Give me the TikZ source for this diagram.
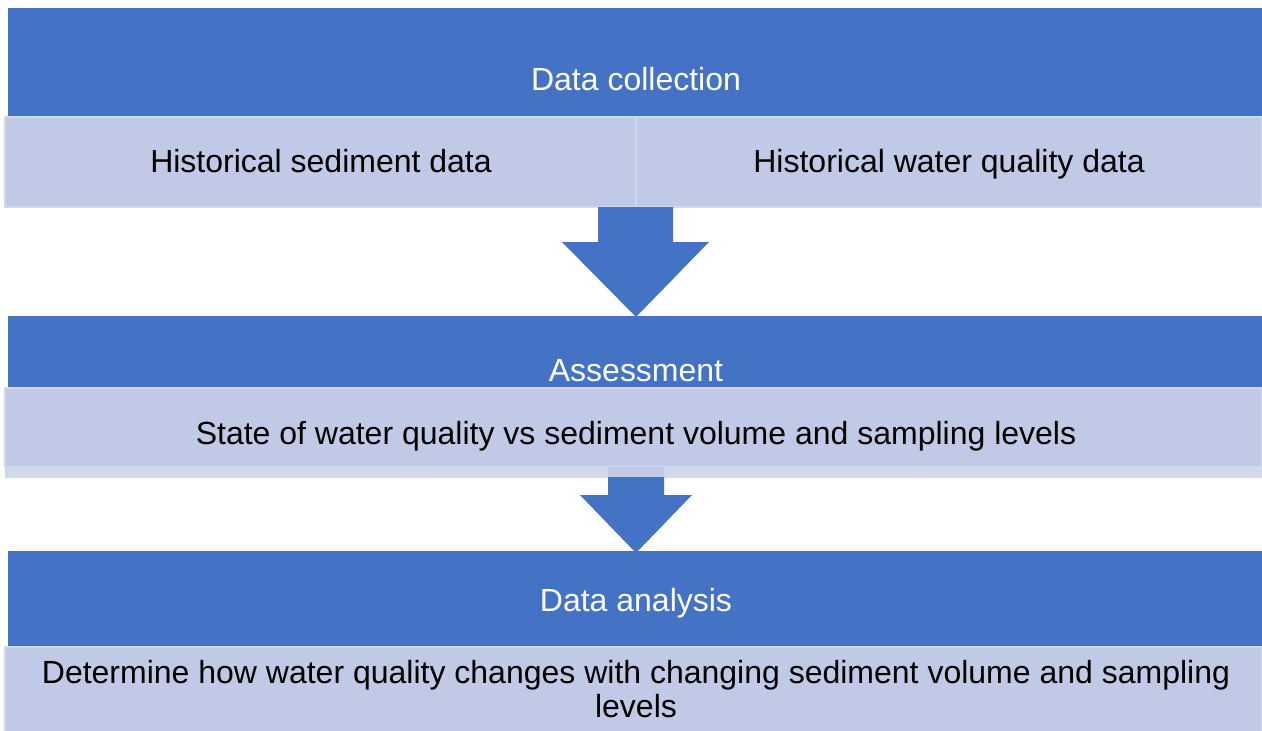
\documentclass[tikz,border=0pt]{standalone}
\usepackage{fontspec}
\setmainfont{Liberation Sans}
\usetikzlibrary{calc}
\definecolor{bandblue}{RGB}{68,114,196}
\definecolor{celllight}{RGB}{192,201,230}
\definecolor{celledge}{RGB}{210,216,236}
\begin{document}
\begin{tikzpicture}[x=1pt,y=-1pt,
  band/.style={fill=bandblue, draw=none, inner sep=0pt, outer sep=0pt},
  cell/.style={fill=celllight, draw=celledge, line width=1.2pt, inner sep=0pt, outer sep=0pt},
  strip/.style={fill=celledge, draw=none, inner sep=0pt, outer sep=0pt},
  head/.style={text=white, font=\fontsize{32}{34}\selectfont, anchor=base, inner sep=0pt},
  body/.style={text=black, font=\fontsize{32}{34}\selectfont, anchor=base, inner sep=0pt, align=center},
  blockarrow/.style={fill=bandblue, draw=none}]
\useasboundingbox (0,0) rectangle (1262,731);
\fill[white] (0,0) rectangle (1262,731);

% stage 1
\node[band, minimum width=1254pt, minimum height=109pt] (b1) at (635,62.5) {};
\node[cell, minimum width=631pt, minimum height=90pt] (c1l) at (320.5,162) {};
\node[cell, minimum width=626pt, minimum height=90pt] (c1r) at (949,162) {};

% arrow 1
\coordinate (a1) at (c1l.south east);
\fill[blockarrow] ($(a1)+(-38,0)$) -- ($(a1)+(37,0)$) -- ($(a1)+(37,35)$) -- ($(a1)+(73,35)$)
  -- ($(a1)+(0,110)$) -- ($(a1)+(-74,35)$) -- ($(a1)+(-38,35)$) -- cycle;

% stage 2
\node[band, minimum width=1254pt, minimum height=72pt] (b2) at (635,352) {};
\node[cell, minimum width=1257pt, minimum height=79pt] (c2) at (633.5,427.5) {};
\node[strip, minimum width=1257pt, minimum height=11pt] (s2) at (633.5,472.5) {};
\fill[celllight] ($(c2.south)+(-25.5,0)$) rectangle ($(c2.south)+(30.5,10)$);

% arrow 2
\coordinate (a2) at ($(c2.south)+(2.5,10)$);
\fill[blockarrow] ($(a2)+(-28,0)$) -- ($(a2)+(28,0)$) -- ($(a2)+(28,18)$) -- ($(a2)+(56,18)$)
  -- ($(a2)+(0,76)$) -- ($(a2)+(-56,18)$) -- ($(a2)+(-28,18)$) -- cycle;

% stage 3
\node[band, minimum width=1254pt, minimum height=96pt] (b3) at (635,599) {};
\node[cell, minimum width=1257pt, minimum height=88pt] (c3) at (633.5,691) {};

% texts
\node[head] (t1) at (636,90) {Data collection};
\node[body] (t2) at (321,172) {Historical sediment data};
\node[body] (t3) at (949,172) {Historical water quality data};
\node[head] (t4) at (636,381) {Assessment};
\node[body] (t5) at (636,444) {State of water quality vs sediment volume and sampling levels};
\node[head] (t6) at (636,611) {Data analysis};
\node[body] (t7) at (636,717) {Determine how water quality changes with changing sediment volume and sampling\\levels};
\end{tikzpicture}
\end{document}
